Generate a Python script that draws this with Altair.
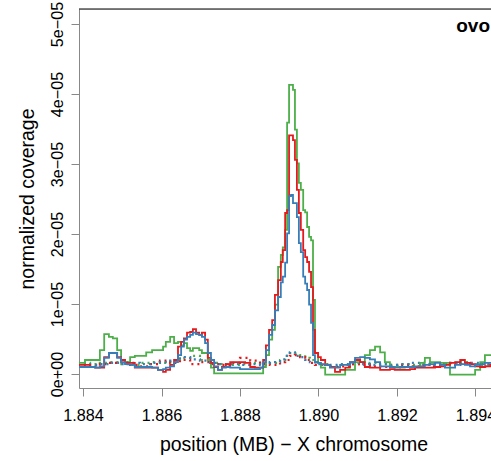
import altair as alt
import pandas as pd

# positions (MB) for solid coverage tracks
pos_mb = [1.88387, 1.88405, 1.88418, 1.88431, 1.88443, 1.88454, 1.88466, 1.88476, 1.88487, 1.88497,
          1.88507, 1.88520, 1.88532, 1.88545, 1.88561, 1.88576, 1.88591, 1.88604, 1.88611, 1.88622,
          1.88632, 1.88642, 1.88650, 1.88657, 1.88665, 1.88673, 1.88680, 1.88688, 1.88696, 1.88703,
          1.88711, 1.88718, 1.88726, 1.88734, 1.88744, 1.88754, 1.88764, 1.88775, 1.88787, 1.88800,
          1.88813, 1.88826, 1.88838, 1.88851, 1.88859, 1.88866, 1.88874, 1.88882, 1.88889, 1.88897,
          1.88904, 1.88909, 1.88915, 1.88920, 1.88925, 1.88930, 1.88935, 1.88940, 1.88945, 1.88950,
          1.88955, 1.88961, 1.88966, 1.88971, 1.88976, 1.88981, 1.88986, 1.88991, 1.88999, 1.89006,
          1.89017, 1.89029, 1.89042, 1.89055, 1.89068, 1.89080, 1.89093, 1.89106, 1.89118, 1.89131,
          1.89144, 1.89157, 1.89169, 1.89182, 1.89194, 1.89208, 1.89220, 1.89233, 1.89246, 1.89259,
          1.89271, 1.89284, 1.89297, 1.89310, 1.89322, 1.89335, 1.89348, 1.89361, 1.89373, 1.89386,
          1.89399, 1.89412, 1.89424, 1.89437, 1.89450]

# coverage values in units of 1e-6
green_cov = [1.6, 2.0, 2.0, 2.0, 3.4, 5.7, 5.3, 5.1, 3.4, 2.0,
             1.7, 2.4, 2.6, 2.6, 3.1, 3.4, 3.4, 3.9, 4.6, 5.3,
             4.4, 4.6, 4.1, 4.4, 3.7, 3.3, 3.7, 3.7, 3.4, 3.0,
             3.0, 2.0, 0.9, 0.1, 0.1, 0.1, 0.1, 0.1, 0.1, 0.1,
             0.1, 0.1, 0.1, 0.1, 1.0, 2.7, 4.9, 6.3, 9.9, 15.3,
             17.0, 18.1, 20.6, 35.9, 41.3, 41.3, 40.6, 34.9, 30.1, 27.3,
             26.3, 23.4, 23.1, 21.0, 19.6, 19.1, 10.6, 3.0, 1.6, 0.9,
             -0.1, -0.1, -0.1, -0.1, 0.6, 0.6, 1.7, 1.7, 2.7, 3.4,
             3.9, 3.1, 1.7, 1.0, 1.0, 0.9, 1.0, 1.0, 1.0, 1.6,
             2.3, 1.7, 1.7, 1.6, 1.6, -0.1, -0.1, -0.1, -0.1, -0.1,
             0.6, 1.7, 2.7, 2.7, 2.7]

red_cov = [1.3, 1.3, 1.0, 0.9, 0.9, 2.4, 3.0, 3.0, 2.4, 2.0,
           1.6, 1.6, 0.9, 0.9, 0.9, 0.9, 0.6, 0.3, 0.6, 1.3,
           2.0, 3.9, 4.6, 5.1, 5.9, 6.0, 6.4, 5.9, 5.6, 5.9,
           4.9, 2.3, 1.6, 1.0, 0.6, 1.0, 1.4, 1.7, 1.7, 1.7,
           1.6, 1.0, 0.9, 0.9, 2.0, 4.1, 6.3, 7.7, 11.3, 13.4,
           16.0, 17.7, 23.0, 23.4, 34.1, 34.1, 33.4, 30.6, 26.3, 23.0,
           20.6, 17.7, 16.7, 16.0, 14.6, 12.4, 6.3, 3.0, 2.4, 2.0,
           1.3, 1.0, 0.3, 0.6, 0.9, 1.7, 2.0, 1.7, 1.0, 0.9,
           0.9, 0.6, 0.6, 0.7, 0.6, 0.6, 0.6, 0.7, 0.9, 0.9,
           0.9, 0.9, 1.0, 1.1, 1.3, 1.6, 1.7, 2.0, 1.6, 1.4,
           1.1, 1.0, 1.1, 1.1, 1.1]

blue_cov = [1.0, 1.0, 1.0, 0.9, 1.1, 2.3, 3.0, 3.0, 2.3, 1.7,
            1.4, 1.3, 1.0, 1.0, 1.0, 0.9, 0.6, 0.7, 0.9, 1.1,
            1.7, 2.7, 3.9, 4.9, 5.3, 5.6, 5.9, 5.7, 5.6, 5.3,
            4.4, 3.0, 2.0, 1.1, 0.6, 0.9, 1.0, 0.9, 0.9, 0.7,
            0.7, 0.7, 0.7, 0.9, 1.7, 3.4, 5.6, 7.0, 9.1, 11.0,
            13.1, 13.9, 15.9, 20.1, 25.4, 25.6, 24.4, 24.4, 22.4, 18.7,
            17.4, 13.9, 12.9, 12.0, 9.9, 7.3, 2.7, 1.7, 1.6, 1.4,
            1.3, 0.9, 0.9, 1.3, 1.3, 1.7, 2.3, 2.4, 2.3, 2.1,
            1.7, 1.1, 1.1, 1.0, 0.9, 1.0, 1.0, 1.0, 1.1, 1.1,
            1.3, 1.4, 1.6, 1.3, 0.9, 0.9, 1.3, 1.4, 1.3, 1.1,
            1.3, 1.4, 1.6, 1.6, 1.6]

# positions (MB) for dotted (input/control) tracks
dot_pos_mb = [1.88387, 1.88418, 1.88443, 1.88469, 1.88494, 1.88520, 1.88545, 1.88571, 1.88596, 1.88622,
              1.88647, 1.88673, 1.88698, 1.88724, 1.88749, 1.88775, 1.88800, 1.88826, 1.88851, 1.88876,
              1.88902, 1.88915, 1.88927, 1.88940, 1.88953, 1.88966, 1.88978, 1.88991, 1.89004, 1.89029,
              1.89055, 1.89080, 1.89106, 1.89131, 1.89157, 1.89182, 1.89208, 1.89233, 1.89259, 1.89284,
              1.89310, 1.89335, 1.89361, 1.89386, 1.89412, 1.89437, 1.89450]

green_dot = [1.6, 1.4, 1.6, 1.7, 1.4, 1.3, 1.6, 1.7, 1.6, 1.9,
             2.3, 2.6, 2.0, 1.6, 1.4, 1.3, 1.4, 1.6, 1.4, 1.6,
             2.0, 2.6, 3.0, 2.9, 2.7, 2.3, 2.0, 1.7, 1.4, 1.1,
             1.3, 1.4, 1.6, 1.6, 1.4, 1.3, 1.4, 1.3, 1.6, 1.4,
             1.3, 1.6, 1.7, 1.4, 1.3, 1.6, 1.6]
red_dot = [1.3, 1.1, 1.4, 1.6, 1.7, 1.3, 1.1, 1.4, 1.9, 1.6,
           2.0, 1.4, 1.7, 1.4, 1.3, 1.6, 2.3, 1.9, 1.4, 1.3,
           1.7, 2.0, 2.6, 2.7, 2.4, 2.0, 1.6, 1.3, 1.3, 1.0,
           1.1, 1.4, 1.3, 1.1, 1.0, 1.1, 1.3, 1.1, 1.3, 1.1,
           1.4, 1.3, 1.6, 1.3, 1.1, 1.3, 1.3]
blue_dot = [1.4, 1.3, 1.4, 1.6, 1.4, 1.6, 1.4, 1.6, 1.7, 1.9,
            2.4, 2.1, 1.9, 1.6, 1.4, 1.4, 1.3, 1.4, 1.3, 1.7,
            2.1, 2.6, 3.1, 2.6, 2.4, 2.0, 1.7, 1.4, 1.3, 1.3,
            1.4, 1.6, 1.4, 1.3, 1.4, 1.3, 1.4, 1.6, 1.4, 1.3,
            1.4, 1.6, 1.4, 1.6, 1.4, 1.3, 1.3]

x_ticks = [1.884, 1.886, 1.888, 1.890, 1.892, 1.894]
y_ticks = [0, 10, 20, 30, 40, 50]  # in units of 1e-6

COLORS = {"green": "#4DAF4A", "red": "#E41A1C", "blue": "#377EB8"}
FONT = "Liberation Sans"

W, H = 412, 379
x_scale = alt.Scale(domain=[1.883898, 1.894395], nice=False, zero=False)
y_scale = alt.Scale(domain=[-2.0, 52.14], nice=False, zero=False)

x_axis = alt.Axis(values=x_ticks, format=".3f", title="position (MB) \u2212 X chromosome",
                  grid=False, tickSize=8, labelPadding=11, labelFontSize=16.2,
                  titleFontSize=19.5, titleFontWeight="normal", titleX=214.5, titleY=62.7,
                  titleBaseline="alphabetic", titleAlign="center", labelFlush=False,
                  labelOverlap=False)
y_axis = alt.Axis(values=y_ticks, title="normalized coverage", grid=False, tickSize=8,
                  labelAngle=270, labelAlign="center", labelBaseline="alphabetic", labelPadding=9,
                  labelExpr="datum.value == 0 ? '0e+00' : (datum.value / 10) + 'e\u221205'",
                  labelFontSize=16.2, titleFontSize=19.5, titleFontWeight="normal",
                  titleAngle=270, titleAlign="center", titleBaseline="alphabetic", titleX=-46,
                  labelFlush=False, labelOverlap=False)


def track(pos, vals, name, dotted=False):
    df = pd.DataFrame({"pos": pos, "cov": vals})
    props = dict(interpolate="step-after", clip=True, color=COLORS[name],
                 strokeWidth=2.2 if dotted else 1.8)
    if dotted:
        props["strokeDash"] = [2, 4]
    return alt.Chart(df).mark_line(**props).encode(
        x=alt.X("pos:Q", scale=x_scale, axis=x_axis),
        y=alt.Y("cov:Q", scale=y_scale, axis=y_axis),
    )


layers = [
    track(dot_pos_mb, green_dot, "green", True),
    track(dot_pos_mb, red_dot, "red", True),
    track(dot_pos_mb, blue_dot, "blue", True),
    track(pos_mb, green_cov, "green"),
    track(pos_mb, red_cov, "red"),
    track(pos_mb, blue_cov, "blue"),
]

top_rule = alt.Chart(pd.DataFrame({"a": [0]})).mark_rule(color="black", strokeWidth=1).encode(
    x=alt.value(0), x2=alt.value(W), y=alt.value(0))

label = alt.Chart(pd.DataFrame({"t": ["ovo"]})).mark_text(
    font=FONT, fontSize=19, fontWeight="bold", align="right", baseline="alphabetic",
    color="black").encode(text="t:N", x=alt.value(411), y=alt.value(23))

chart = alt.layer(*layers, top_rule, label).properties(
    width=W, height=H,
    autosize=alt.AutoSizeParams(type="none"),
    padding={"left": 79, "top": 9, "right": 0, "bottom": 73},
).configure_view(strokeWidth=0).configure_axis(
    labelFont=FONT, titleFont=FONT, labelColor="black", titleColor="black",
    tickColor="black", domainColor="black", domainWidth=1, tickWidth=1,
    titleFontWeight="normal",
).configure(background="white")

chart.save("out.html", embed_options={"renderer": "svg", "actions": False})
